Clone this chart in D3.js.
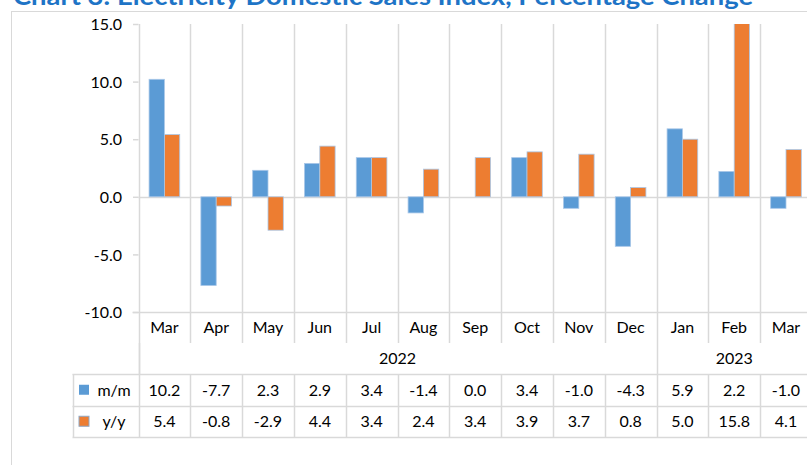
<!DOCTYPE html>
<html><head><meta charset="utf-8">
<script src="https://cdn.jsdelivr.net/npm/d3@7"></script>
<style>
html,body{margin:0;padding:0;background:#fff;overflow:hidden;}
text{font-family:Lato, "Open Sans", sans-serif;}
</style></head>
<body>
<svg id="chart" width="807" height="465"></svg>
<script>
const title = "Chart 3: Electricity Domestic Sales Index, Percentage Change";
const months = ["Mar","Apr","May","Jun","Jul","Aug","Sep","Oct","Nov","Dec","Jan","Feb","Mar"];
const yearLabels = ["2022","2023"];
const yearSpans = [10, 3];
const seriesNames = ["m/m","y/y"];
const mmValues = [10.2,-7.7,2.3,2.9,3.4,-1.4,0.0,3.4,-1.0,-4.3,5.9,2.2,-1.0];
const yyValues = [5.4,-0.8,-2.9,4.4,3.4,2.4,3.4,3.9,3.7,0.8,5.0,15.8,4.1];
const yTicks = [-10,-5,0,5,10,15];
const colors = ["#5B9BD5","#ED7D31"];

const svg = d3.select("#chart");
const grid = "#D9D9D9";
const fmt = v => v.toFixed(1);

// layout
const plotLeft = 138.5, step = 51.8;
const plotTop = 24, plotBottom = 312;
const monthRowBottom = 343, tableTop = 374, rowH = 31.5, tableLeft = 72.5;

const x = d3.scaleBand().domain(d3.range(months.length))
  .range([plotLeft, plotLeft + step * months.length]).paddingInner(0).paddingOuter(0);
const sub = d3.scaleBand().domain([0,1]).range([0, x.bandwidth()]).paddingInner(0).paddingOuter(0.69);
const y = d3.scaleLinear().domain([-10, 15]).range([plotBottom, plotTop]);
const rightEdge = plotLeft + step * months.length;

// chart area border
svg.append("rect").attr("x", 11.5).attr("y", 11.5).attr("width", 900).attr("height", 600)
  .attr("fill", "none").attr("stroke", grid);

// title
svg.append("text").attr("x", 13).attr("y", 5).text(title)
  .attr("font-size", 24).attr("font-weight", "bold").attr("fill", "#1E74C6")
  .attr("textLength", 740).attr("lengthAdjust", "spacingAndGlyphs");

// vertical grid lines (category boundaries) through plot and month row
const bounds = d3.range(months.length + 1).map(i => i < months.length ? x(i) : rightEdge);
svg.append("g").selectAll("line").data(bounds).join("line")
  .attr("x1", d => Math.round(d) + 0.5).attr("x2", d => Math.round(d) + 0.5)
  .attr("y1", plotTop).attr("y2", monthRowBottom)
  .attr("stroke", grid).attr("stroke-width", 1.5);

// year separators through year row
let acc = 0; const yearBounds = [0];
yearSpans.forEach(s => { acc += s; yearBounds.push(acc); });
svg.append("g").selectAll("line").data(yearBounds.slice(0, -1)).join("line")
  .attr("x1", i => Math.round(x(i)) + 0.5).attr("x2", i => Math.round(x(i)) + 0.5)
  .attr("y1", monthRowBottom).attr("y2", tableTop)
  .attr("stroke", grid).attr("stroke-width", 1.5);

// zero line and bottom axis line
svg.append("line").attr("x1", plotLeft).attr("x2", rightEdge)
  .attr("y1", Math.round(y(0)) + 0.5).attr("y2", Math.round(y(0)) + 0.5)
  .attr("stroke", grid).attr("stroke-width", 1.5);
svg.append("line").attr("x1", plotLeft - 6).attr("x2", rightEdge)
  .attr("y1", Math.round(y(-10)) + 0.5).attr("y2", Math.round(y(-10)) + 0.5)
  .attr("stroke", grid).attr("stroke-width", 1.5);

// y axis
const yAxis = d3.axisLeft(y).tickValues(yTicks).tickFormat(fmt).tickSize(5.5).tickPadding(11);
const ya = svg.append("g").attr("transform", `translate(${plotLeft},0)`).call(yAxis);
ya.select(".domain").remove();
ya.selectAll(".tick line").attr("stroke", grid).attr("stroke-width", 1.5);
ya.selectAll(".tick text").attr("font-size", 16).attr("fill", "#000")
  .attr("font-family", "Lato, sans-serif").attr("dy", "0.36em");

// bars
svg.append("clipPath").attr("id", "plotclip").append("rect")
  .attr("x", plotLeft).attr("y", plotTop).attr("width", rightEdge - plotLeft).attr("height", plotBottom - plotTop);
const barsG = svg.append("g").attr("clip-path", "url(#plotclip)");
[mmValues, yyValues].forEach((vals, s) => {
  barsG.append("g").selectAll("rect").data(vals).join("rect")
    .attr("x", (d, i) => x(i) + sub(s))
    .attr("width", sub.bandwidth())
    .attr("y", d => y(Math.max(0, d)))
    .attr("height", d => Math.abs(y(d) - y(0)))
    .attr("fill", colors[s])
    .attr("stroke", "#A9C7E8").attr("stroke-width", 0.8);
});

// month labels
svg.append("g").selectAll("text").data(months).join("text")
  .attr("x", (d, i) => x(i) + x.bandwidth() / 2).attr("y", (plotBottom + monthRowBottom) / 2)
  .attr("dy", "0.36em").attr("text-anchor", "middle").attr("font-size", 16).text(d => d);

// year labels
svg.append("g").selectAll("text").data(yearLabels).join("text")
  .attr("x", (d, i) => (x(yearBounds[i]) + (yearBounds[i+1] < months.length ? x(yearBounds[i+1]) : rightEdge)) / 2)
  .attr("y", (monthRowBottom + tableTop) / 2)
  .attr("dy", "0.36em").attr("text-anchor", "middle").attr("font-size", 16).text(d => d);

// data table
const rowsY = [tableTop, tableTop + rowH, tableTop + 2 * rowH];
svg.append("g").selectAll("line").data(rowsY).join("line")
  .attr("x1", tableLeft).attr("x2", rightEdge)
  .attr("y1", d => Math.round(d) + 0.5).attr("y2", d => Math.round(d) + 0.5)
  .attr("stroke", grid).attr("stroke-width", 1.5);
svg.append("g").selectAll("line").data([tableLeft].concat(bounds)).join("line")
  .attr("x1", d => Math.round(d) + 0.5).attr("x2", d => Math.round(d) + 0.5)
  .attr("y1", tableTop).attr("y2", tableTop + 2 * rowH)
  .attr("stroke", grid).attr("stroke-width", 1.5);
// left axis line continues down through year row
svg.append("line").attr("x1", Math.round(plotLeft) + 0.5).attr("x2", Math.round(plotLeft) + 0.5)
  .attr("y1", monthRowBottom).attr("y2", tableTop).attr("stroke", grid).attr("stroke-width", 1.5);

[mmValues, yyValues].forEach((vals, s) => {
  const cy = tableTop + rowH * s + rowH / 2;
  const g = svg.append("g");
  g.append("rect").attr("x", 79).attr("y", cy - 5).attr("width", 10).attr("height", 10)
    .attr("fill", colors[s]).attr("stroke", s === 1 ? "#8FA7C4" : "none").attr("stroke-width", 1);
  g.append("text").attr("x", 114).attr("y", cy).attr("dy", "0.36em")
    .attr("text-anchor", "middle").attr("font-size", 16).text(seriesNames[s]);
  g.selectAll("text.v").data(vals).join("text").attr("class", "v")
    .attr("x", (d, i) => x(i) + x.bandwidth() / 2).attr("y", cy).attr("dy", "0.36em")
    .attr("text-anchor", "middle").attr("font-size", 16).text(d => fmt(d));
});
</script>
</body></html>
